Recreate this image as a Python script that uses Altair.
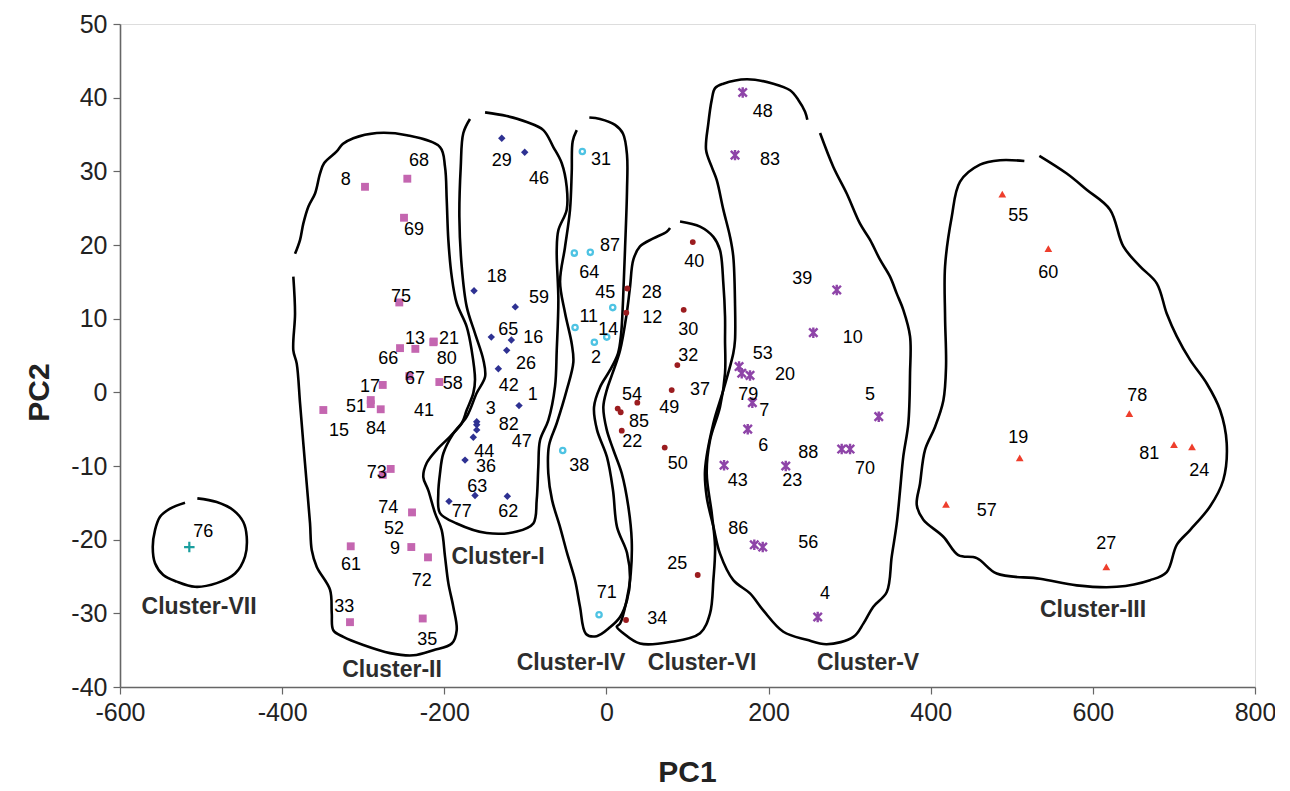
import altair as alt
import pandas as pd

X_TICKS = [-600, -400, -200, 0, 200, 400, 600, 800]
Y_TICKS = [-40, -30, -20, -10, 0, 10, 20, 30, 40, 50]

# ---------------- points (id, PC1, PC2) and label anchor positions ----------------
C1_ID = ["29", "46", "18", "59", "65", "16", "26", "42", "1", "3", "82", "47", "44", "36", "63", "77", "62"]
C1_X = [-129.1, -100.8, -163.3, -112.4, -142.0, -117.3, -123.0, -133.3, -107.8, -160.0, -160.0, -160.0, -164.2, -174.4, -162.1, -194.2, -122.2]
C1_Y = [34.5, 32.6, 13.8, 11.6, 7.5, 7.1, 5.7, 3.2, -1.8, -4.0, -4.4, -5.1, -6.1, -9.2, -14.0, -14.8, -14.1]
C1_LX = [-129.1, -83.1, -135.3, -83.1, -121.0, -90.2, -99.2, -120.5, -90.9, -142.7, -120.5, -104.5, -150.6, -148.5, -159.2, -178.5, -121.0]
C1_LY = [31.4, 29.0, 15.7, 12.8, 8.5, 7.4, 3.8, 0.8, -0.4, -2.2, -4.5, -6.7, -8.1, -10.1, -12.8, -16.2, -16.2]

C2_ID = ["8", "68", "69", "75", "13", "21", "66", "80", "67", "17", "58", "51", "41", "84", "15", "73", "74", "52", "9", "72", "61", "33", "35"]
C2_X = [-297.8, -245.6, -249.7, -255.5, -235.7, -213.0, -254.6, -213.5, -243.1, -275.9, -206.1, -290.7, -290.7, -278.4, -349.2, -266.1, -239.8, -275.9, -240.7, -220.1, -315.4, -316.3, -226.6]
C2_Y = [27.9, 29.0, 23.7, 12.2, 5.9, 6.9, 6.0, 6.8, 2.2, 1.0, 1.4, -1.05, -1.6, -2.3, -2.4, -10.4, -16.3, -11.2, -21.0, -22.4, -20.9, -31.2, -30.7]
C2_LX = [-321.6, -231.2, -237.3, -253.4, -236.1, -194.2, -269.0, -197.0, -236.1, -291.6, -189.6, -308.9, -225.0, -284.2, -329.8, -283.3, -269.0, -262.0, -260.8, -227.8, -315.0, -323.3, -220.9]
C2_LY = [28.8, 31.4, 22.0, 12.9, 7.3, 7.3, 4.5, 4.5, 1.8, 0.7, 1.1, -1.95, -2.5, -5.0, -5.2, -11.0, -15.7, -18.5, -21.2, -25.6, -23.5, -29.2, -33.6]

C3_ID = ["55", "60", "78", "19", "81", "24", "57", "27"]
C3_X = [488.3, 545.1, 645.0, 509.8, 700.1, 722.3, 418.9, 616.6]
C3_Y = [26.9, 19.5, -2.9, -8.9, -7.1, -7.4, -15.2, -23.7]
C3_LX = [508.1, 545.1, 654.9, 508.1, 669.7, 731.3, 469.1, 616.6]
C3_LY = [24.0, 16.2, -0.5, -6.2, -8.4, -10.7, -16.1, -20.6]

C4_ID = ["31", "64", "87", "45", "11", "14", "2", "38", "71"]
C4_X = [-29.7, -39.6, -19.9, 7.8, -38.7, 0.4, -14.9, -53.9, -9.1]
C4_Y = [32.7, 18.9, 19.0, 11.5, 8.8, 7.5, 6.8, -7.9, -30.2]
C4_LX = [-6.7, -21.1, 4.4, -1.4, -21.8, 2.3, -12.8, -33.4, 0.4]
C4_LY = [31.5, 16.2, 19.8, 13.5, 10.2, 8.4, 4.6, -10.0, -27.3]

C5_ID = ["48", "83", "39", "10", "53", "79", "20", "7", "6", "5", "88", "70", "43", "23", "86", "56", "4"]
C5_X = [168.1, 158.6, 284.1, 255.2, 163.6, 166.9, 177.1, 180.0, 174.3, 335.9, 290.2, 300.5, 145.1, 221.2, 182.4, 192.8, 260.6]
C5_Y = [40.7, 32.2, 13.9, 8.1, 3.5, 2.6, 2.3, -1.4, -5.0, -3.3, -7.7, -7.7, -9.9, -10.0, -20.7, -21.0, -30.5]
C5_LX = [192.8, 201.8, 241.6, 303.8, 192.8, 175.0, 220.3, 194.8, 193.5, 325.2, 249.0, 319.0, 162.0, 229.3, 162.7, 249.0, 269.6]
C5_LY = [38.0, 31.5, 15.4, 7.4, 5.2, -0.4, 2.4, -2.5, -7.3, -0.4, -8.2, -10.4, -12.0, -12.0, -18.5, -20.5, -27.4]

C6_ID = ["40", "28", "12", "30", "32", "37", "54", "85", "49", "22", "50", "25", "34"]
C6_X = [106.5, 25.8, 24.5, 95.3, 87.5, 80.5, 38.1, 13.9, 17.6, 18.9, 71.9, 112.6, 24.2]
C6_Y = [20.4, 14.1, 10.8, 11.2, 3.7, 0.3, -1.4, -2.2, -2.7, -5.2, -7.5, -24.8, -30.9]
C6_LX = [108.4, 55.9, 56.6, 101.0, 101.0, 115.5, 31.6, 40.2, 77.6, 31.9, 87.9, 87.5, 62.8]
C6_LY = [17.7, 13.5, 10.1, 8.4, 5.0, 0.3, -0.3, -4.0, -2.1, -6.8, -9.7, -23.3, -30.8]

C7_ID = ["76"]
C7_X = [-514.5]
C7_Y = [-21.0]
C7_LX = [-497.2]
C7_LY = [-19.0]

# ---------------- cluster names ----------------
CLUSTER_NAMES = ["Cluster-I", "Cluster-II", "Cluster-III", "Cluster-IV", "Cluster-V", "Cluster-VI", "Cluster-VII"]
CLUSTER_NX = [-133.7, -264.5, 600.2, -43.7, 322.7, 118.0, -502.5]
CLUSTER_NY = [-22.4, -37.7, -29.6, -36.7, -36.7, -36.7, -29.1]

# ---------------- hand-drawn cluster outlines (open paths, in data units) ----------------
OUT_I_X = [-168.3, -176.5, -179.7, -181.4, -178.5, -172.3, -162.1, -151.8, -149.7, -160.0, -172.3, -188.9, -201.2, -205.3, -207.4, -205.3, -184.7, -147.7, -110.6, -90.2, -86.0, -84.0, -81.9, -71.7, -63.4, -61.3, -59.3, -61.3, -59.3, -49.0, -49.0, -55.1, -65.5, -77.8, -98.3, -123.0, -149.7]
OUT_I_Y = [37.1, 35.2, 30.6, 23.8, 17.1, 11.6, 8.0, 4.4, 2.1, -0.1, -3.3, -5.6, -8.3, -11.0, -13.7, -16.4, -17.8, -19.1, -18.9, -17.8, -14.6, -10.1, -6.5, -3.8, 0.8, 5.7, 12.5, 19.3, 22.0, 24.8, 27.9, 31.1, 33.3, 35.6, 36.7, 37.5, 38.0]

OUT_II_X = [-384.1, -377.9, -373.9, -367.7, -359.4, -353.3, -348.3, -332.7, -325.3, -312.2, -283.3, -246.3, -205.3, -199.1, -197.0, -195.0, -190.8, -184.7, -172.3, -166.2, -162.1, -164.2, -172.3, -178.5, -192.9, -209.3, -221.7, -225.9, -219.7, -211.4, -203.2, -199.1, -195.0, -188.9, -184.7, -190.8, -213.5, -238.2, -266.9, -299.9, -324.5, -336.9, -338.8, -340.9, -357.3, -363.5, -365.6, -369.7, -373.9, -377.9, -382.0, -386.2, -384.1, -386.2]
OUT_II_Y = [18.8, 20.7, 22.9, 25.2, 27.0, 29.7, 31.1, 32.7, 33.7, 34.5, 35.2, 34.9, 33.3, 30.6, 26.1, 20.7, 15.7, 12.1, 8.9, 5.7, 1.7, -0.1, -2.4, -4.2, -6.0, -7.8, -9.6, -11.5, -13.3, -16.4, -18.7, -22.3, -25.9, -29.1, -32.3, -34.1, -35.0, -35.7, -35.4, -34.3, -33.2, -32.3, -30.0, -26.8, -23.7, -21.4, -17.8, -12.4, -6.9, -1.5, 3.9, 5.7, 10.7, 15.7]

OUT_III_X = [515.5, 485.5, 460.8, 436.2, 425.9, 417.7, 417.7, 418.9, 415.6, 405.3, 393.0, 386.8, 382.8, 390.9, 415.6, 434.1, 456.8, 481.4, 534.8, 580.1, 629.5, 670.5, 691.1, 703.5, 719.9, 744.5, 760.9, 765.1, 756.9, 740.5, 719.9, 703.5, 691.1, 678.8, 658.2, 637.6, 621.2, 592.4, 567.8, 534.0]
OUT_III_Y = [31.4, 31.5, 30.9, 28.6, 23.8, 17.1, 10.3, 3.5, -1.1, -4.7, -7.8, -12.4, -15.3, -17.3, -19.6, -22.1, -22.5, -24.6, -25.3, -26.2, -26.4, -25.5, -24.4, -20.7, -18.7, -15.5, -11.9, -6.9, -2.4, 1.2, 4.4, 7.6, 10.7, 14.8, 17.1, 19.8, 24.8, 27.5, 29.7, 32.1]

OUT_IV_X = [-36.6, -41.6, -42.8, -44.9, -51.1, -57.2, -51.1, -42.8, -40.8, -49.0, -61.3, -70.8, -71.7, -67.1, -57.2, -48.6, -38.7, -32.6, -25.2, -12.0, 4.4, 16.8, 25.4, 29.1, 25.4, 13.1, 8.1, 0.7, -11.6, -15.3, -7.9, 4.4, 14.3, 18.0, 20.5, 22.9, 25.4, 25.4, 20.5, 10.6, -7.9, -21.1]
OUT_IV_Y = [35.6, 34.1, 29.9, 24.8, 19.7, 15.0, 10.8, 6.6, 4.1, 0.3, -4.2, -7.2, -11.0, -14.6, -18.3, -21.8, -25.5, -29.1, -32.8, -33.1, -31.9, -30.5, -28.2, -25.5, -21.8, -18.3, -13.3, -8.8, -5.1, -2.0, 0.7, 3.0, 5.3, 7.8, 12.5, 19.3, 27.5, 32.2, 35.1, 36.3, 37.1, 37.3]

OUT_V_X = [247.8, 245.0, 236.7, 226.5, 205.9, 173.1, 144.2, 134.0, 129.9, 125.7, 122.9, 129.9, 136.1, 144.2, 152.5, 156.5, 158.6, 158.6, 156.5, 144.2, 131.9, 121.6, 123.7, 131.9, 140.1, 156.5, 177.1, 193.5, 218.2, 247.1, 271.7, 304.6, 316.9, 329.2, 345.8, 351.9, 358.1, 362.2, 366.2, 372.4, 374.5, 374.5, 366.2, 358.1, 349.8, 337.5, 325.2, 312.8, 296.4, 279.9, 263.5]
OUT_V_Y = [37.0, 38.1, 39.7, 41.0, 41.9, 42.5, 41.9, 41.3, 39.7, 36.5, 32.9, 30.6, 28.8, 24.8, 21.1, 18.4, 12.1, 7.1, 5.3, 0.3, -4.2, -10.6, -14.2, -18.2, -21.9, -25.5, -27.3, -29.6, -32.5, -33.6, -34.2, -33.2, -31.4, -29.1, -27.1, -22.3, -17.8, -13.3, -8.7, -4.2, 2.6, 7.6, 11.2, 13.4, 15.7, 18.0, 20.7, 22.9, 27.0, 30.6, 35.2]

OUT_VI_X = [78.5, 74.4, 57.9, 41.4, 33.2, 29.1, 25.0, 16.8, 6.9, 0.4, -3.8, 0.4, 8.5, 18.9, 27.0, 31.2, 30.0, 25.0, 16.8, 12.7, 20.8, 41.4, 78.5, 115.5, 127.8, 131.9, 134.0, 129.9, 123.7, 127.8, 140.1, 146.3, 146.3, 146.3, 144.2, 140.1, 131.9, 115.5, 90.8]
OUT_VI_Y = [22.3, 21.8, 20.9, 19.8, 18.0, 14.3, 10.7, 5.7, 2.4, 0.3, -2.0, -5.1, -7.8, -11.0, -15.5, -20.1, -24.6, -28.2, -31.4, -31.8, -32.7, -34.1, -33.9, -32.7, -30.0, -25.5, -21.0, -16.4, -11.0, -6.5, -2.0, 2.6, 7.1, 10.3, 14.8, 19.3, 21.1, 22.5, 23.2]

OUT_VII_X = [-519.8, -538.3, -550.6, -556.8, -559.6, -556.8, -546.6, -530.0, -507.5, -480.7, -458.1, -445.8, -443.7, -447.9, -460.2, -480.7, -504.6]
OUT_VII_Y = [-15.0, -15.8, -16.9, -18.7, -21.0, -23.2, -24.8, -25.7, -26.4, -25.9, -24.6, -22.3, -19.6, -17.6, -16.0, -14.9, -14.4]

# ---------------- build tables ----------------
def pts(ids, xs, ys, lxs, lys):
    return pd.DataFrame({"id": ids, "x": xs, "y": ys, "lx": lxs, "ly": lys})

P1 = pts(C1_ID, C1_X, C1_Y, C1_LX, C1_LY)
P2 = pts(C2_ID, C2_X, C2_Y, C2_LX, C2_LY)
P3 = pts(C3_ID, C3_X, C3_Y, C3_LX, C3_LY)
P4 = pts(C4_ID, C4_X, C4_Y, C4_LX, C4_LY)
P5 = pts(C5_ID, C5_X, C5_Y, C5_LX, C5_LY)
P6 = pts(C6_ID, C6_X, C6_Y, C6_LX, C6_LY)
P7 = pts(C7_ID, C7_X, C7_Y, C7_LX, C7_LY)
ALL = pd.concat([P1, P2, P3, P4, P5, P6, P7], ignore_index=True)

outline_sets = [("I", OUT_I_X, OUT_I_Y), ("II", OUT_II_X, OUT_II_Y), ("III", OUT_III_X, OUT_III_Y),
                ("IV", OUT_IV_X, OUT_IV_Y), ("V", OUT_V_X, OUT_V_Y), ("VI", OUT_VI_X, OUT_VI_Y),
                ("VII", OUT_VII_X, OUT_VII_Y)]
rows = []
for name, ox, oy in outline_sets:
    for i, (a, b) in enumerate(zip(ox, oy)):
        rows.append({"c": name, "i": i, "x": a, "y": b})
OUT = pd.DataFrame(rows)

NAMES = pd.DataFrame({"name": CLUSTER_NAMES, "x": CLUSTER_NX, "y": CLUSTER_NY})

# ---------------- scales / axes ----------------
FONT = "Liberation Sans"
xscale = alt.Scale(domain=[-600, 800], nice=False, zero=False)
yscale = alt.Scale(domain=[-40, 50], nice=False, zero=False)

x_axis = alt.Axis(values=X_TICKS, title="PC1", labelExpr="'' + datum.value", grid=False,
                  labelFlush=False, labelOverlap=False,
                  labelFont=FONT, labelFontSize=25, labelColor="#222", labelPadding=6,
                  tickSize=7, tickColor="#666", tickWidth=1.2, domainColor="#666", domainWidth=1.6,
                  titleFont=FONT, titleFontSize=30, titleFontWeight="bold", titleColor="#222",
                  titleBaseline="alphabetic", titleX=567, titleY=94)
y_axis = alt.Axis(values=Y_TICKS, title="PC2", labelExpr="'' + datum.value", grid=False,
                  labelFlush=False, labelOverlap=False,
                  labelFont=FONT, labelFontSize=25, labelColor="#222", labelPadding=6,
                  tickSize=7, tickColor="#666", tickWidth=1.2, domainColor="#666", domainWidth=1.6,
                  titleFont=FONT, titleFontSize=30, titleFontWeight="bold", titleColor="#222",
                  titleBaseline="alphabetic", titleX=-72, titleY=368, titleAngle=-90)

X = alt.X("x:Q", scale=xscale, axis=x_axis)
Y = alt.Y("y:Q", scale=yscale, axis=y_axis)

outlines = alt.Chart(OUT).mark_line(color="black", strokeWidth=2.6, interpolate="catmull-rom").encode(
    x=X, y=Y, detail="c:N", order="i:Q")

ASTERISK = "M-0.8,-0.8L0.8,0.8M-0.8,0.8L0.8,-0.8M0,-1L0,1"
PLUS = "M-1,0L1,0M0,-1L0,1"

m1 = alt.Chart(P1).mark_point(shape="diamond", filled=True, color="#2e3192", size=55, opacity=1).encode(x=X, y=Y)
m2 = alt.Chart(P2).mark_point(shape="square", filled=True, color="#c466b0", size=62, opacity=1).encode(x=X, y=Y)
m3 = alt.Chart(P3).mark_point(shape="triangle-up", filled=True, color="#ee3e2c", size=60, opacity=1).encode(x=X, y=Y)
m4 = alt.Chart(P4).mark_point(shape="circle", filled=False, color="#4ec3e3", size=28, strokeWidth=2.3, opacity=1).encode(x=X, y=Y)
m5 = alt.Chart(P5).mark_point(shape=ASTERISK, filled=False, color="#8e44a8", size=110, strokeWidth=2.4, opacity=1).encode(x=X, y=Y)
m6 = alt.Chart(P6).mark_point(shape="circle", filled=True, color="#9b1c1f", size=34, opacity=1).encode(x=X, y=Y)
m7 = alt.Chart(P7).mark_point(shape=PLUS, filled=False, color="#1a9e9e", size=110, strokeWidth=2.2, opacity=1).encode(x=X, y=Y)

labels = alt.Chart(ALL).mark_text(font=FONT, fontSize=18, color="black", align="center", baseline="middle").encode(
    x=alt.X("lx:Q", scale=xscale, axis=x_axis), y=alt.Y("ly:Q", scale=yscale, axis=y_axis), text="id:N")

names = alt.Chart(NAMES).mark_text(font=FONT, fontSize=23, fontWeight="bold", color="#2d2d2d",
                                   align="center", baseline="middle").encode(x=X, y=Y, text="name:N")

chart = alt.layer(outlines, m1, m2, m3, m4, m5, m6, m7, labels, names).properties(
    width=1135, height=663,
    padding={"left": 112, "top": 16, "right": 20, "bottom": 103},
    autosize=alt.AutoSizeParams(type="none"),
).configure_view(stroke="#a8a8a8", strokeWidth=1.5).configure(background="white")

chart.save("out.html", embed_options={"renderer": "svg", "actions": False})
